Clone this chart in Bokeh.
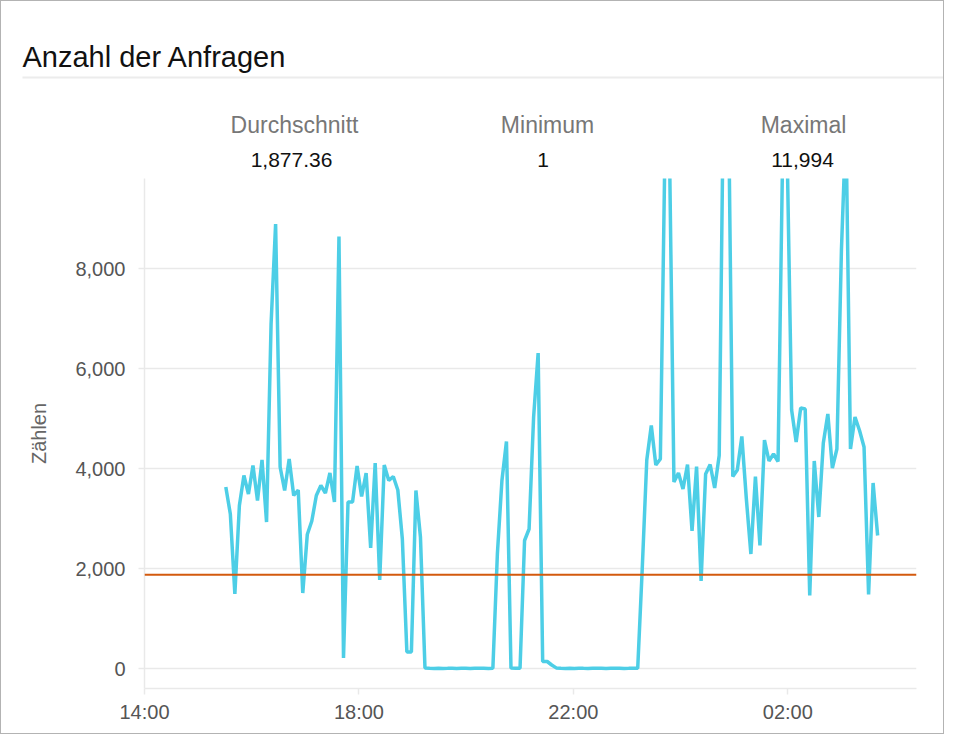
import pandas as pd
from bokeh.plotting import figure
from bokeh.layouts import column
from bokeh.core.properties import value
from bokeh.models import (Span, FixedTicker, NumeralTickFormatter,
                          DatetimeTickFormatter, Range1d, ColumnDataSource)
from bokeh.embed import file_html
from bokeh.resources import INLINE

# ---------------- data ----------------
TITLE = "Anzahl der Anfragen"
STAT_LABELS = ["Durchschnitt", "Minimum", "Maximal"]
STAT_VALUES = ["1,877.36", "1", "11,994"]
AVERAGE = 1877.36
Y_LABEL = "Zählen"

SERIES_START = "2024-03-11 15:31:00"
SERIES_END = "2024-03-12 03:40:30"
COUNTS = [
    3630, 3090, 1490, 3260, 3860, 3490, 4060, 3360, 4170, 2930,
    6890, 8890, 4030, 3560, 4190, 3460, 3570, 1510, 2680, 2950,
    3460, 3660, 3510, 3910, 3330, 8640, 210, 3330, 3330, 4050,
    3440, 3910, 2410, 4110, 1770, 4070, 3760, 3840, 3570, 2590,
    330, 330, 3560, 2630, 10,
    3, 2, 4, 2, 3, 5, 2, 4, 3, 2, 6, 3, 4, 2,
    5, 2300, 3760, 4540, 8, 4, 6, 2560, 2790, 5030, 6310, 140, 140, 70, 12,
    3, 1, 4, 2, 5, 3, 2, 6, 4, 3, 2, 5, 3, 4, 2, 3, 5,
    6, 2000, 4170, 4860, 4070, 4190, 10300, 10500, 3730, 3910,
    3590, 4080, 2750, 4040, 1750, 3890, 4080, 3610, 4260, 11994,
    11800, 3840, 3970, 4640, 3390, 2290, 3840, 2460, 4570, 4150,
    4290, 4140, 10200, 10400, 5170, 4530, 5210, 5190, 1460, 4150,
    3030, 4510, 5090, 4010, 4390, 8360, 10900, 4390, 5030, 4760,
    4430, 1480, 3710, 2660,
]

X_START = "2024-03-11 14:00"
X_END = "2024-03-12 04:24"
X_TICKS = ["2024-03-11 14:00", "2024-03-11 18:00", "2024-03-11 22:00", "2024-03-12 02:00"]
Y_TICKS = [0, 2000, 4000, 6000, 8000]
Y_MIN, Y_MAX = -400, 9800

# ---------------- layout constants (pixels) ----------------
B = 1                     # card border width
W = 942                   # inner width
HEAD_H = 177              # header height
CHART_H = 555             # chart height
FL, FR, FB = 143, 27, 45  # chart borders (frame from x=144..916, y=178..688 on page)

def ms(t):
    return pd.Timestamp(t).value / 1e6

# ---------------- header (title + statistics) ----------------
head = figure(width=W, height=HEAD_H, output_backend="svg", toolbar_location=None,
              x_range=Range1d(B, W + B), y_range=Range1d(HEAD_H + B, B),
              x_axis_type=None, y_axis_type=None, min_border=0)
head.outline_line_color = None
head.background_fill_color = "white"
head.border_fill_color = "white"

head.text(x=[22], y=[56], text=[TITLE], text_font=value("Liberation Sans"),
          text_font_size="29px", text_color="#111111",
          text_baseline="alphabetic", text_align="left")
head.segment(x0=[22], y0=[77], x1=[946], y1=[77], line_color="#ececec", line_width=2)

label_cx = [294, 547, 803]
value_cx = [291, 542.5, 802]
head.text(x=label_cx, y=[124] * 3, text=STAT_LABELS, text_font=value("Liberation Sans"),
          text_font_size="23px", text_color="#777777",
          text_baseline="alphabetic", text_align="center")
head.text(x=value_cx, y=[159.5] * 3, text=STAT_VALUES, text_font=value("Liberation Sans"),
          text_font_size="21px", text_color="#111111",
          text_baseline="alphabetic", text_align="center")

# ---------------- chart ----------------
times = pd.date_range(SERIES_START, SERIES_END, periods=len(COUNTS))
src = ColumnDataSource(dict(t=times, v=COUNTS))

p = figure(width=W, height=CHART_H, x_axis_type="datetime", output_backend="svg",
           toolbar_location=None,
           x_range=Range1d(ms(X_START), ms(X_END)), y_range=Range1d(Y_MIN, Y_MAX),
           min_border_left=FL, min_border_right=FR, min_border_top=0, min_border_bottom=FB)
p.outline_line_color = None
p.background_fill_color = "white"
p.border_fill_color = "white"

GRID = "#e9e9e9"
p.xgrid.grid_line_color = None
p.ygrid.grid_line_color = GRID
p.ygrid.grid_line_width = 1.5

p.xaxis.ticker = FixedTicker(ticks=[ms(t) for t in X_TICKS])
p.xaxis.formatter = DatetimeTickFormatter(hours="%H:%M", hourmin="%H:%M", days="%H:%M",
                                          minutes="%H:%M", minsec="%H:%M")
p.yaxis.ticker = FixedTicker(ticks=Y_TICKS)
p.yaxis.formatter = NumeralTickFormatter(format="0,0")

for ax in (p.xaxis[0], p.yaxis[0]):
    ax.axis_line_color = GRID
    ax.axis_line_width = 1.5
    ax.major_tick_line_color = GRID
    ax.major_tick_line_width = 1.5
    ax.major_tick_out = 6
    ax.major_tick_in = 0
    ax.minor_tick_line_color = None
    ax.major_label_text_font = "Liberation Sans"
    ax.major_label_text_font_size = "20px"
    ax.major_label_text_color = "#555555"

p.xaxis.major_label_standoff = 6
p.yaxis.major_label_standoff = 13
p.yaxis.axis_label = Y_LABEL
p.yaxis.axis_label_text_font = "Liberation Sans"
p.yaxis.axis_label_text_font_size = "20px"
p.yaxis.axis_label_text_font_style = "normal"
p.yaxis.axis_label_text_color = "#666666"
p.yaxis.axis_label_standoff = 22

p.line("t", "v", source=src, line_color="#4dcee6", line_width=3.5)
p.add_layout(Span(location=AVERAGE, dimension="width", line_color="#d35a0e", line_width=2))

# do not align the header's frame with the chart's frame
for fig in (head, p):
    if hasattr(fig, "frame_align"):
        fig.frame_align = False

card = column(head, p, spacing=0,
              styles={"border": f"{B}px solid #b3b3b3", "background-color": "white"})

open("out.html", "w").write(file_html(card, INLINE))
